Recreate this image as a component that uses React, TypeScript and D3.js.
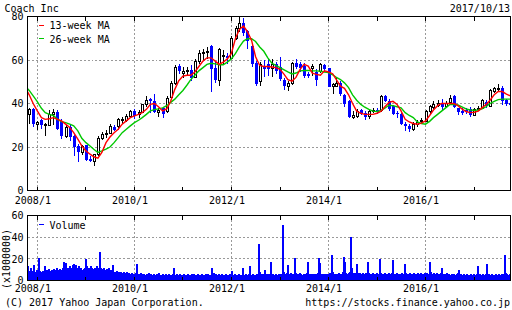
import React from "react";
import * as d3 from "d3";

// ---- data (monthly candles from 2007/11) ----
const firstMonth = new Date(2007, 10, 1);
const openP = [35.3,37.3,30.5,32.3,30,30,35,36.3,32,25, 29,25,20.5,17.5,20.8,14.5,13.6,16.7,24.3,26, 26.6,29.4,29.7,32.3,32.3,34.3,36.6,35,36.3,39.6, 42,41,36.3,37.8,36.6,43,49.6,57.2,54.2,54.8, 55.2,52.2,59.5,63.2,63.6,66.4,56.5,51,62,61.8, 61,70,74.8,77,73.3,66.4,58.7,50.3,57.2,58, 56.1,58.3,56.8,51,48,49.6,58.7,58.3,57.2,53.7, 56.3,54.5,55,57.6,56.1,48,48,49.6,44,41.2, 34,34.3,36.9,35.8,34.3,36.8,36.9,36.9,43.5,41.2, 38.9,35.8,35,30.8,29.7,28.2,30.5,32,32,36.6, 38.4,39.3,40,38.9,40.9,43.5,37.8,36.6,37,37.3, 34.7,37.6,38.1,40.9,38.9,45.7,47,47,41.5,40.4];
const closeP = [37.3,30.5,31.5,30,30.5,35.3,36,28.5,25,29, 24.6,20,17.5,20.5,14,13.6,16.7,24.3,26,26.6, 29.7,27.9,32.7,33,34.3,36.6,34.3,36.3,39.6,41.5, 41,36.3,36.8,35.3,42.7,49.6,56.8,55,55,55.3, 51.9,59.5,63.3,63.6,64.2,55.7,51,64.9,62.5,60.7, 70,74.8,77.1,72.5,68.7,58,48.8,58,55.7,55.7, 58,55,51.1,48,49.6,58.7,56.8,56.5,52.6,52.6, 57.2,50.6,58,55.7,47.6,48.8,49.6,44.2,40,33.8, 34.5,36.6,35.3,33.8,36.6,37,36.3,43.5,41.2,37.3, 35,35,30.5,29.7,28.2,30.8,31.7,32.5,36.6,38.9, 40,40.4,38.4,40.4,42.7,38.4,36.3,35.6,36.3,34.7, 37.3,38,41.5,38.9,46,47.3,47.3,41.2,39.6,39.3];
const highP = [38,38,32,33,31,37,37.3,37,33,30, 30,25.5,21.5,21,21,16,17,25,27,28, 30.5,30,33.5,34,35,37,37.5,37,40,43.5, 42.5,44.2,38,38.5,43.5,50.5,57.5,58,57,57, 57.5,60.5,64.5,65,66,66.8,59,65.5,64.5,63.3, 71,75.5,79.7,79.5,74,68,59.5,59,60,60.3, 60.3,59,61.5,51.5,50.5,59,60.3,59,58.5,54.5, 58,56,58.5,58,56.5,49.5,52,50.5,44.5,41.5, 36.6,37.5,37.5,36.5,37,38,38,44,44,42, 39.5,36.5,35.5,31.5,30.5,31.5,32.5,33.5,37,39.5, 41,41.5,42,41,44,44,38,37.8,38,38.5, 38,39,42,41.5,46.5,47.8,48.9,48,42,41];
const lowP = [30.5,29,28,28.5,25,29.5,30,28,23.5,24, 22.8,16,13,16.5,13.5,13,11.3,16,23,24, 26,27.5,28,30.5,31.5,33.5,33,33.5,35.5,38.5, 35.5,35.7,34,33.5,35.5,42,48.5,53.5,51.5,53, 50.5,52,58,59.5,60.5,45.4,49.5,48,57.5,58, 60.5,69,73,71,65,57,48,48,52,52.5, 52,53.5,50.5,46,45.7,48.5,56,54.5,51.5,51.5, 52.5,48,54,54.5,47.5,44.2,47.5,43.5,38.5,33.5, 32.8,33.5,34.5,32.5,32.8,35.5,35,36,40.5,36.5, 34.5,33.5,30,27.5,27,27.5,29,30.5,31.5,35, 37.5,38.5,37,38,40,38,34.7,34.5,35,34, 34.2,36.5,37.5,38,38.5,45,45.5,39.5,39,38.5];

// moving averages, monthly points from 2007/10
const maFirstMonth = new Date(2007, 9, 1);
const ma13 = [47.5,44,40,36.6,33.5,32.7,33,33.5,32.7,32,30.5, 29,26.6,23.6,20.5,18.2,16.7,15.5,14.9,17.5,22, 24.6,26.6,28.2,30.5,32,33.5,34.3,35,35.8,37.3, 39.6,40,38.5,36.6,37.5,41,46.5,50.5,52.6,53, 53,54.5,57,59.5,61,61,59.5,58,59,60.5, 63,70,74,75.6,73,69,61.5,57.5,57,57, 56.8,56.5,55.7,53.4,51,50.3,52,55.7,58,57.2, 54,53.4,53,55,54.5,53.7,51,48,47,44, 40,36.5,35.5,35,35,35,35.5,36.5,38.5,40.5, 41,39.6,36.6,32.7,31.5,30.8,30.5,31,32,34.5, 37,39,40,40,40,40,39,37.5,36.3,35.8, 36,36.5,38,39.5,41.5,44,45.5,45.5,44.3,43.5];
const ma26 = [48,46,43.5,40.9,37.8,35.8,35,34.5,32.7,31.7,31.2, 30.5,29.7,27.4,24,22,20.5,19,17.5,18.2,19, 20,22,24.3,26.6,28.2,29.7,31.2,32.3,33.5,35, 36.6,37.2,37.5,38,39,40.5,42,44,46,48.5, 51,53,55,56.5,58,58.5,58.2,57.8,57.8,59, 60.5,63,66,68.7,69.8,69.8,68.5,66,64,61, 58.5,57.5,56.5,55.5,54.5,53.6,54,55,55.2,55.2, 55,55,54.8,54.5,54.2,53.2,52,51,49.5,47.3, 44,41.5,39.6,38.3,37.3,36.5,36.3,36.8,37.8,39.2, 39,38.5,38,35.8,34.5,33.5,31.5,30.8,30.5,31.8, 33.5,35,36.5,38,39.5,39.6,39.3,38.4,37.5,37, 36.9,37,37.5,38.5,40,41,41.8,42,42,42];

// weekly volume (millions), last week ending 2017/10/13
const lastWeek = new Date(2017, 9, 13);
const volume = [
  35,13,9,8,12,7,8,9,14,7,
  8,10,7,21,9,8,7,9,8,13, 9,8,10,9,11,8,9,10,8,11, 9,10,12,9,10,8,11,10,9,12, 17,11,16,10,12,11,13,12,10,14, 12,15,11,14,12,10,13,11,12,10,9,11,
  12,11,20,13,11,12,10,13,12,11, 10,12,11,13,10,12,26,11,12,10, 11,12,10,9,11,10,12,9,10,8, 14,9,8,7,8,9,7,8,7,8, 7,6,8,7,6,7,8,6,7,6,5,7,6,
  5,6,7,15,6,5,6,5,7,6, 5,6,5,4,6,5,7,5,6,5, 4,5,6,5,4,6,5,7,5,4, 5,6,5,4,6,5,4,5,6,5, 4,5,6,12,5,4,6,5,4,5,6,5,
  4,5,6,5,4,5,6,4,5,5, 6,4,5,6,5,4,5,6,5,4, 5,6,5,4,5,6,5,4,6,5, 5,4,12,6,7,5,6,5,4,6, 5,4,5,6,5,4,5,6,5,4,5,6,4,
  9,5,4,5,6,5,4,5,6,5, 4,5,12,5,4,6,5,4,5,6, 13,5,4,6,5,4,5,6,5,7, 34,8,6,5,6,5,10,5,6,5, 6,5,17,6,5,6,5,4,6,5,4,6,
  5,6,5,51,8,6,5,6,7,14, 6,5,7,6,5,6,21,7,6,5, 6,5,7,6,5,4,6,5,6,7, 17,6,5,6,5,4,6,5,6,5, 6,7,21,16,6,5,6,5,4,6,5,6,5,
  6,7,5,24,8,6,5,6,5,6, 5,7,6,5,6,8,22,17,7,6, 6,7,8,40,12,8,7,6,7,6, 15,7,6,7,6,5,7,6,5,6, 7,6,17,7,6,5,6,7,6,5,6,7,
  6,5,6,20,7,6,5,6,7,6, 5,6,7,6,5,6,7,19,6,5, 6,7,5,6,5,6,7,6,5,6, 15,7,6,5,6,7,6,5,6,7, 6,5,6,7,6,5,6,7,6,5,6,7,
  6,7,6,5,17,8,6,5,6,7, 6,5,7,6,5,6,7,12,6,5, 6,5,6,7,5,6,5,4,6,5, 6,5,4,6,5,7,10,5,6,4, 5,6,5,4,6,5,4,5,6,5,4,5,6,
  5,4,6,13,5,6,5,4,6,5, 4,5,6,15,5,6,5,4,6,5, 4,5,6,5,4,5,6,5,4,6, 5,6,24,7,6,5,4,6,5,8
];

const priceTicks = [0, 20, 40, 60, 80];
const volTicks = [0, 20, 40, 60];
const labelYears = [2008, 2010, 2012, 2014, 2016];
const tickYears = [2008, 2009, 2010, 2011, 2012, 2013, 2014, 2015, 2016, 2017];

const FONT = '"DejaVu Sans Mono", monospace';
const BLUE = "#0000ff";
const RED = "#ff0000";
const GREEN = "#00c800";
const GRID = "#999999";

export default function App() {
  const L = 27.5, R = 510.5, T = 16.5, B = 190.5;
  const VT = 215.5, VB = 280.5;
  const x = d3.scaleTime().domain([new Date(2008, 0, 1), new Date(2016, 0, 1)]).range([37.3, 425.5]);
  const y = d3.scaleLinear().domain([0, 80]).range([B, T]);
  const yv = d3.scaleLinear().domain([0, 60]).range([VB, VT]);
  const px = (v: number) => Math.round(v - 0.5) + 0.5;

  const candles = openP.map((o, i) => ({
    date: d3.timeMonth.offset(firstMonth, i),
    o, c: closeP[i], h: highP[i], l: lowP[i],
  }));
  const maDates = ma13.map((_, i) => d3.timeMonth.offset(maFirstMonth, i));
  const line = d3.line<number>().x((_, i) => x(maDates[i])).y((d) => y(d));
  const weeks = volume.map((v, i) => ({ date: d3.timeDay.offset(lastWeek, -7 * (volume.length - 1 - i)), v }));

  const txt = { fontFamily: FONT, fontSize: 10, fill: "#000" } as const;

  return (
    <svg width={512} height={310} style={{ position: "absolute", left: 0, top: 0, background: "#fff" }}>
      <defs>
        <clipPath id="mainClip"><rect x={L} y={T} width={R - L} height={B - T} /></clipPath>
        <clipPath id="volClip"><rect x={L} y={VT} width={R - L} height={VB - VT} /></clipPath>
      </defs>
      <rect x={0} y={0} width={512} height={310} fill="#fff" />

      {/* Titles */}
      <text x={4.5} y={11.5} {...txt}>Coach Inc</text>
      <text x={510} y={11.5} textAnchor="end" {...txt}>2017/10/13</text>

      {/* main grid */}
      <g shapeRendering="crispEdges">
        {[20, 40, 60].map((v) => (
          <line key={v} x1={L} x2={R} y1={px(y(v))} y2={px(y(v))} stroke={GRID} strokeDasharray="2,2" />
        ))}
        {labelYears.map((yr) => (
          <line key={yr} x1={px(x(new Date(yr, 0, 1)))} x2={px(x(new Date(yr, 0, 1)))} y1={T} y2={B} stroke={GRID} strokeDasharray="2,2" />
        ))}
        {[20, 40].map((v) => (
          <line key={v} x1={L} x2={R} y1={px(yv(v))} y2={px(yv(v))} stroke={GRID} strokeDasharray="2,2" />
        ))}
        {labelYears.map((yr) => (
          <line key={yr} x1={px(x(new Date(yr, 0, 1)))} x2={px(x(new Date(yr, 0, 1)))} y1={VT} y2={VB} stroke={GRID} strokeDasharray="2,2" />
        ))}
      </g>

      {/* volume bars */}
      <g clipPath="url(#volClip)" shapeRendering="crispEdges">
        {weeks.map((w, i) => (
          <rect key={i} x={Math.floor(x(w.date)) - 1} y={yv(w.v)} width={2} height={VB - yv(w.v)} fill={BLUE} />
        ))}
      </g>

      {/* candles */}
      <g clipPath="url(#mainClip)">
        {candles.map((d, i) => {
          const cx = Math.round(x(d.date));
          const up = d.c >= d.o;
          const top = y(Math.max(d.o, d.c));
          const bot = y(Math.min(d.o, d.c));
          const col = up ? "#000" : BLUE;
          return (
            <g key={i} shapeRendering="crispEdges">
              <line x1={cx + 0.5} x2={cx + 0.5} y1={y(d.h)} y2={y(d.l)} stroke={col} strokeWidth={1} />
              {up ? (
                <rect x={cx - 1 + 0.5} y={Math.round(top) + 0.5} width={2} height={Math.max(1, Math.round(bot) - Math.round(top))} fill="#fff" stroke="#000" strokeWidth={1} />
              ) : (
                <rect x={cx - 1} y={Math.round(top)} width={3} height={Math.max(1, Math.round(bot) - Math.round(top))} fill={BLUE} />
              )}
            </g>
          );
        })}
        <path d={line(ma26) || ""} fill="none" stroke={GREEN} strokeWidth={1.4} />
        <path d={line(ma13) || ""} fill="none" stroke={RED} strokeWidth={1.4} />
      </g>

      {/* frames */}
      <g shapeRendering="crispEdges" fill="none" stroke="#000">
        <rect x={L} y={T} width={R - L} height={B - T} />
        <rect x={L} y={VT} width={R - L} height={VB - VT} />
        {tickYears.map((yr) => {
          const xx = px(x(new Date(yr, 0, 1)));
          return (
            <g key={yr}>
              <line x1={xx} x2={xx} y1={T} y2={T + 4} />
              <line x1={xx} x2={xx} y1={B - 4} y2={B} />
              <line x1={xx} x2={xx} y1={VT} y2={VT + 4} />
              <line x1={xx} x2={xx} y1={VB - 4} y2={VB} />
            </g>
          );
        })}
      </g>

      {/* y labels */}
      {priceTicks.map((v) => (
        <text key={v} x={23.5} y={y(v) + 3.7} textAnchor="end" {...txt}>{v}</text>
      ))}
      {volTicks.map((v) => (
        <text key={v} x={23.5} y={yv(v) + 3.7} textAnchor="end" {...txt}>{v}</text>
      ))}
      <text transform={`translate(9.5,259) rotate(-90)`} textAnchor="middle" {...txt}>(x1000000)</text>

      {/* x labels */}
      {labelYears.map((yr) => (
        <g key={yr}>
          <text x={x(new Date(yr, 0, 1)) - 22.5} y={203.5} {...txt}>{`${yr}/1`}</text>
          <text x={x(new Date(yr, 0, 1)) - 22.5} y={291.5} {...txt}>{`${yr}/1`}</text>
        </g>
      ))}

      {/* legends */}
      <line x1={39} x2={44} y1={25.5} y2={25.5} stroke={RED} shapeRendering="crispEdges" />
      <text x={49.5} y={29.3} {...txt}>13-week MA</text>
      <line x1={39} x2={44} y1={38.5} y2={38.5} stroke={GREEN} shapeRendering="crispEdges" />
      <text x={49.5} y={42.5} {...txt}>26-week MA</text>
      <line x1={39} x2={44} y1={224.5} y2={224.5} stroke={BLUE} shapeRendering="crispEdges" />
      <text x={49.5} y={228.5} {...txt}>Volume</text>

      {/* footer */}
      <text x={5} y={306} {...txt}>(C) 2017 Yahoo Japan Corporation.</text>
      <text x={510} y={306} textAnchor="end" {...txt}>https://stocks.finance.yahoo.co.jp</text>
    </svg>
  );
}
